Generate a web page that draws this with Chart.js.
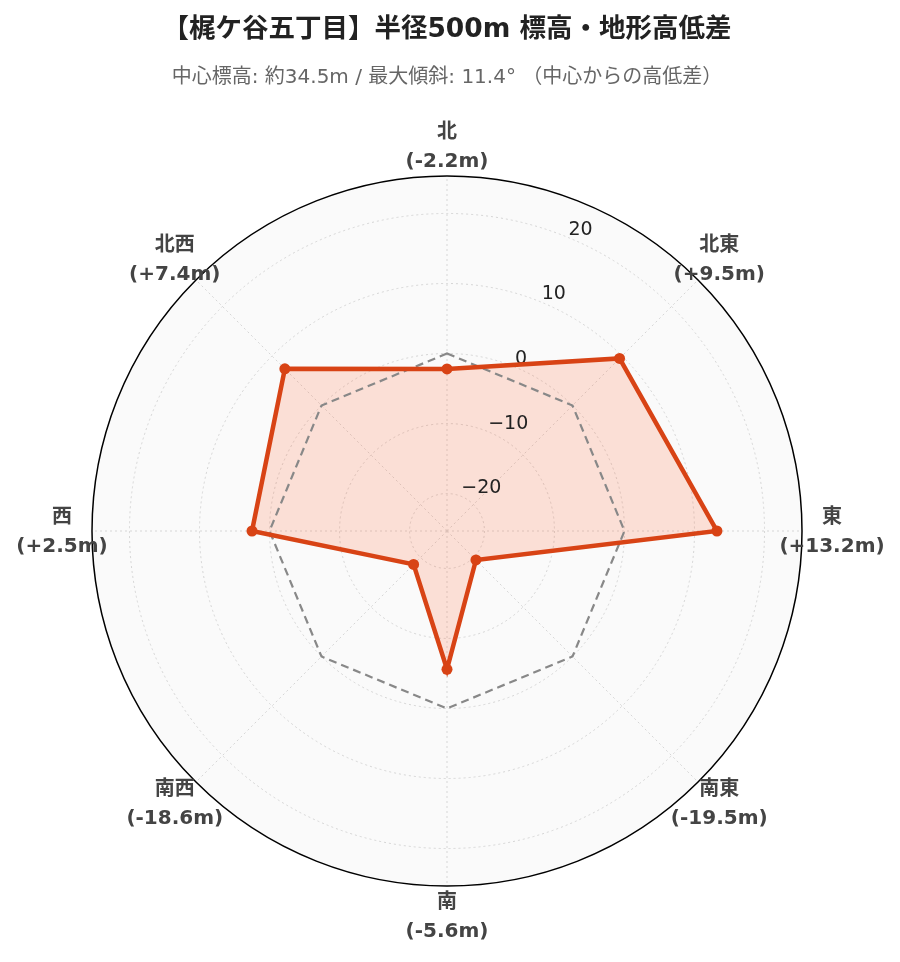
<!DOCTYPE html>
<html><head><meta charset="utf-8">
<script src="https://cdn.jsdelivr.net/npm/chart.js@4.4.1/dist/chart.umd.min.js"></script>
<style>html,body{margin:0;padding:0;background:#fff}#wrap{width:900px;height:962px}</style>
</head><body><div id="wrap"><canvas id="c" width="900" height="962"></canvas></div>
<script>
const directions = ['北', '北東', '東', '南東', '南', '南西', '西', '北西'];
const elevationDiff = [-2.2, 9.5, 13.2, -19.5, -5.6, -18.6, 2.5, 7.4];
const baseline = [0, 0, 0, 0, 0, 0, 0, 0];
const tickValues = [-20, -10, 0, 10, 20];
const axisMin = -25.35;
const axisMax = 25.35;
const titleText = '【梶ケ谷五丁目】半径500m 標高・地形高低差';
const subtitleText = '中心標高: 約34.5m / 最大傾斜: 11.4° （中心からの高低差）';

const FONT = "'DejaVu Sans', 'Noto Sans CJK JP', sans-serif";
const fmtDiff = v => '(' + (v > 0 ? '+' : '') + v.toFixed(1) + 'm)';
const fmtTick = v => (v < 0 ? '\u2212' + Math.abs(v) : String(v));

const polarDecor = {
  id: 'polarDecor',
  beforeDraw(chart) {
    const s = chart.scales.r, ctx = chart.ctx;
    ctx.save();
    ctx.fillStyle = '#fafafa';
    ctx.beginPath();
    ctx.arc(s.xCenter, s.yCenter, s.drawingArea, 0, Math.PI * 2);
    ctx.fill();
    ctx.restore();
  },
  beforeDatasetsDraw(chart) {
    const s = chart.scales.r, ctx = chart.ctx;
    ctx.save();
    ctx.strokeStyle = '#000';
    ctx.lineWidth = 1.5;
    ctx.beginPath();
    ctx.arc(s.xCenter, s.yCenter, s.drawingArea, 0, Math.PI * 2);
    ctx.stroke();
    ctx.font = '19px ' + FONT;
    ctx.fillStyle = '#222';
    ctx.textAlign = 'left';
    ctx.textBaseline = 'middle';
    tickValues.forEach(v => {
      const p = s.getPointPosition(0.5, s.getDistanceFromCenterForValue(v));
      ctx.fillText(fmtTick(v), p.x, p.y - 8);
    });
    ctx.restore();
  },
  afterDraw(chart) {
    const s = chart.scales.r, ctx = chart.ctx;
    ctx.save();
    ctx.font = 'bold 20px ' + FONT;
    ctx.fillStyle = '#444';
    ctx.textAlign = 'center';
    ctx.textBaseline = 'middle';
    directions.forEach((d, i) => {
      const p = s.getPointPosition(i, s.drawingArea + 30);
      ctx.fillText(d, p.x, p.y - 13);
      ctx.fillText(fmtDiff(elevationDiff[i]), p.x, p.y + 16);
    });
    ctx.restore();
  }
};

new Chart(document.getElementById('c'), {
  type: 'radar',
  data: {
    labels: directions,
    datasets: [
      {
        label: '高低差',
        data: elevationDiff,
        borderColor: '#d84315',
        backgroundColor: 'rgba(255,87,34,0.17)',
        borderWidth: 4.5,
        fill: 'start',
        pointRadius: 5.5,
        pointHoverRadius: 5.5,
        pointBackgroundColor: '#d84315',
        pointBorderColor: '#d84315',
        pointBorderWidth: 0,
        tension: 0
      },
      {
        label: '中心',
        data: baseline,
        borderColor: '#888',
        borderWidth: 2.2,
        borderDash: [8, 5],
        fill: false,
        pointRadius: 0,
        tension: 0
      }
    ]
  },
  options: {
    responsive: false,
    animation: false,
    devicePixelRatio: 1,
    layout: { padding: { top: 0, left: 91, right: 97, bottom: 75 } },
    plugins: {
      legend: { display: false },
      tooltip: { enabled: false },
      filler: { drawTime: 'beforeDatasetsDraw' },
      title: {
        display: true,
        text: titleText,
        color: '#222',
        font: { family: FONT, size: 26.5, weight: 'bold', lineHeight: 1.2 },
        padding: { top: 14, bottom: 19.5 }
      },
      subtitle: {
        display: true,
        text: subtitleText,
        color: '#666',
        font: { family: FONT, size: 20, weight: 'normal', lineHeight: 1.2 },
        padding: { top: 0, bottom: 86 }
      }
    },
    scales: {
      r: {
        min: axisMin,
        max: axisMax,
        startAngle: 0,
        afterBuildTicks: scale => { scale.ticks = tickValues.map(v => ({ value: v })); },
        ticks: { display: false },
        pointLabels: { display: false },
        grid: { circular: true, color: '#d6d6d6', lineWidth: 1 },
        border: { dash: [2, 3] },
        angleLines: { display: true, color: '#d6d6d6', lineWidth: 1, borderDash: [2, 3] }
      }
    }
  },
  plugins: [polarDecor]
});
</script>
</body></html>
